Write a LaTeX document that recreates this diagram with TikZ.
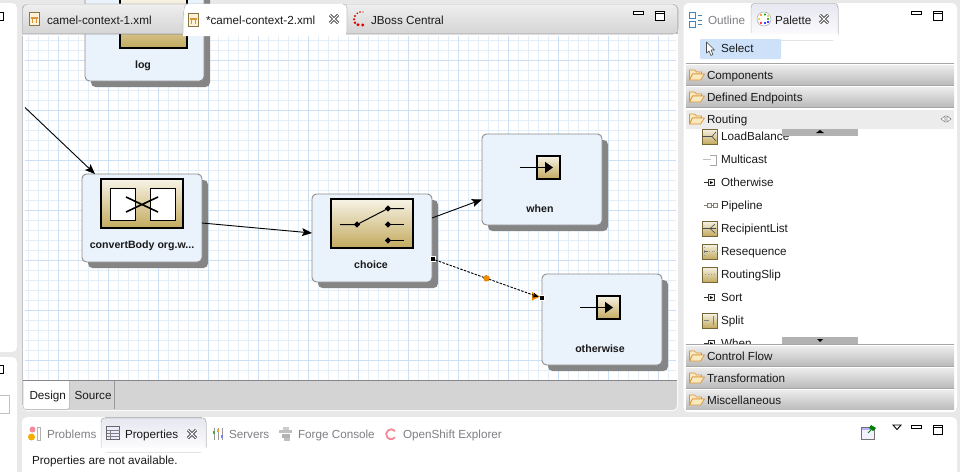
\documentclass[tikz,border=0pt]{standalone}
\usepackage{fontspec}
\setmainfont{Liberation Sans}
\usetikzlibrary{arrows.meta,shapes.geometric}
\definecolor{bgc}{HTML}{E8E8E8}
\definecolor{minorc}{HTML}{E3EEF9}
\definecolor{majorc}{HTML}{CBE0F4}
\definecolor{boxc}{HTML}{EAF2FC}
\definecolor{boxl}{HTML}{8C8C8C}
\definecolor{shadc}{HTML}{858585}
\definecolor{goldt}{HTML}{F7F3E6}
\definecolor{goldb}{HTML}{C3AA5E}
\definecolor{txt}{HTML}{1A1A1A}
\definecolor{dim}{HTML}{7F7F85}
\definecolor{hdt}{HTML}{ECECEC}
\definecolor{hdb}{HTML}{BDBDBD}
\definecolor{tabt}{HTML}{EFEFEF}
\definecolor{tabb}{HTML}{D4D4D4}
\definecolor{edge}{HTML}{C2C2C6}
\definecolor{lav}{HTML}{E6E7F0}
\definecolor{sel}{HTML}{CDE2F9}
\definecolor{fold}{HTML}{D9953A}
\definecolor{foldf}{HTML}{FBE9BE}
\definecolor{orng}{HTML}{F08C00}
\definecolor{pk}{HTML}{F58A96}
\tikzset{
  lbl/.style={inner sep=0pt,outer sep=0pt,anchor=base west,font=\fontsize{11.7}{13}\selectfont,text=txt},
  dimlbl/.style={lbl,text=dim},
  blocklbl/.style={inner sep=0pt,font=\fontsize{10.6}{12}\selectfont\bfseries,text=txt},
  blockbody/.style={draw=boxl,fill=boxc,line width=.9pt,rounded corners=4.5pt,inner sep=0pt,outer sep=0pt},
  blockshadow/.style={fill=shadc,rounded corners=4.5pt,inner sep=0pt,outer sep=0pt},
  goldicon/.style={draw=black,line width=2pt,top color=goldt,bottom color=goldb,inner sep=0pt,outer sep=0pt},
  minigold/.style={draw=goldb!60!black,line width=.6pt,top color=goldt,bottom color=goldb,inner sep=0pt,minimum width=15pt,minimum height=15pt},
  flow/.style={black,line width=.9pt,-{Stealth[length=10pt,width=8pt,inset=2pt]}},
  handle/.style={draw=white,fill=black,line width=.5pt,inner sep=0pt,minimum size=5pt},
  winbtn/.style={draw=black,line width=1pt,fill=white},
  hdr/.style={top color=hdt,bottom color=hdb,draw=none},
  sw/.style={black,line width=1pt},
  swdot/.style={diamond,fill=black,inner sep=0pt,minimum size=6.5pt}
}
\newcommand{\blocktext}{}
\newcommand{\blockbox}[7]{%
  \node[blockshadow,minimum width=#4,minimum height=#5] (#1s) at (#2+6,#3+6) {};
  \node[blockbody,minimum width=#4,minimum height=#5] (#1) at (#2,#3) {};
  \node[blocklbl] (#1l) at (#6,#7) {\vphantom{g}\blocktext};}
\newcommand{\foldr}[2]{%
  \draw[fold,fill=foldf,line width=.7pt,line join=round] (#1,#2+5) -- (#1,#2-5) -- (#1+5,#2-5) -- (#1+7,#2-3) -- (#1+12,#2-3) -- (#1+12,#2-1) -- (#1+3,#2-1) -- cycle;
  \draw[fold,fill=foldf,line width=.7pt,line join=round] (#1,#2+5) -- (#1+3,#2-1) -- (#1+15,#2-1) -- (#1+11,#2+5) -- cycle;}
\newcommand{\closex}[2]{%
  \draw[black,line width=2.6pt] (#1-4,#2-4) -- (#1+4,#2+4) (#1-4,#2+4) -- (#1+4,#2-4);
  \draw[white,line width=1.3pt] (#1-4,#2-4) -- (#1+4,#2+4) (#1-4,#2+4) -- (#1+4,#2-4);}
\newcommand{\minbtn}[2]{\draw[winbtn] (#1,#2) rectangle (#1+9.5,#2+3.5);}
\newcommand{\maxbtn}[2]{\draw[winbtn] (#1,#2) rectangle (#1+9,#2+9); \draw[black,line width=1pt] (#1,#2+2) -- (#1+9,#2+2);}
\newcommand{\camel}[2]{%
  \draw[fill=foldf!60,draw=goldb!70!black,line width=.7pt] (#1,#2-6.5) rectangle (#1+10,#2+6.5);
  \fill[fold] (#1+1.5,#2-2.5) rectangle (#1+8.5,#2-.5);
  \fill[fold] (#1+2,#2-.5) rectangle (#1+3.5,#2+4);
  \fill[fold] (#1+6,#2-.5) rectangle (#1+7.5,#2+4);}
\newcommand{\smallarrow}[1]{%
  \draw[black!80,line width=.6pt] (704,#1) -- (714,#1);
  \draw[black!80,line width=.6pt,fill=goldt] (708.5,#1-3) rectangle (714.5,#1+3);
  \fill[black] (710,#1-1.5) -- (713,#1) -- (710,#1+1.5) -- cycle;}
\begin{document}
\begin{tikzpicture}[x=1pt,y=-1pt]
\useasboundingbox (0,0) rectangle (960,472);
\fill[bgc] (0,0) rectangle (960,472);
% left panels
\fill[white,rounded corners=5pt] (-10,3) rectangle (17,352);
\fill[white,rounded corners=5pt] (-10,357) rectangle (17,482);
\draw[black,line width=1pt] (-6,12) rectangle (3,20);
\draw[black,line width=1pt] (-6,365) rectangle (3,373);
\draw[edge,line width=.8pt] (-5,395) rectangle (9.5,413);
% editor
\fill[white,rounded corners=5pt] (22,3) rectangle (678,411);
\fill[tabb,rounded corners=4pt] (23,378) rectangle (677,410);
\fill[white] (23.5,34) rectangle (677,380);
\foreach \gx in {28,38,...,668} \draw[minorc,line width=.9pt] (\gx+.5,36) -- (\gx+.5,380);
\foreach \gy in {40,50,...,370} \draw[minorc,line width=.9pt] (25,\gy+.5) -- (676,\gy+.5);
\foreach \gx in {58,108,...,658} \draw[majorc,line width=1pt] (\gx+.5,36) -- (\gx+.5,380);
\foreach \gy in {60,110,...,360} \draw[majorc,line width=1pt] (25,\gy+.5) -- (676,\gy+.5);
\draw[edge,line width=.8pt] (22.5,36) -- (22.5,405);
% blocks
\renewcommand{\blocktext}{log}
\blockbox{logb}{144.5}{35}{119}{92}{143}{65.5}
\renewcommand{\blocktext}{convertBody org.w...}
\blockbox{conv}{142}{218}{120}{88}{142}{245.5}
\renewcommand{\blocktext}{choice}
\blockbox{choice}{372}{238}{120}{88}{371}{265.5}
\renewcommand{\blocktext}{when}
\blockbox{when}{542}{179.5}{120}{91}{540}{209.5}
\renewcommand{\blocktext}{otherwise}
\blockbox{other}{602}{319.5}{120}{91}{600}{349.5}
% log icon
\node[goldicon,minimum width=67pt,minimum height=49pt] (logi) at (153.5,23.5) {};
% convert icon
\node[goldicon,minimum width=82pt,minimum height=49pt] (convi) at (142,203.5) {};
\node[draw=black,fill=white,line width=.7pt,inner sep=0pt,minimum width=25pt,minimum height=32pt] (convl) at (122.5,204) {};
\node[draw=black,fill=white,line width=.7pt,inner sep=0pt,minimum width=25pt,minimum height=32pt] (convr) at (162.5,204) {};
\draw[black,line width=1.6pt] (126,197) -- (158,212) (126,212) -- (158,197);
% choice icon
\node[goldicon,minimum width=82pt,minimum height=49pt] (choicei) at (372,223.5) {};
\node[swdot] (d0) at (357,224.5) {};
\node[swdot] (d1) at (388,208.5) {};
\node[swdot] (d2) at (388,224.5) {};
\node[swdot] (d3) at (388,240.5) {};
\coordinate (s0) at (340,224.5);
\coordinate (e1) at (404,208.5);
\coordinate (e2) at (404,224.5);
\coordinate (e3) at (404,240.5);
\draw[sw] (s0) -- (d0.center) -- (d1.center) -- (e1);
\draw[sw] (d2.center) -- (e2);
\draw[sw] (d3.center) -- (e3);
% when / otherwise icons
\node[goldicon,minimum size=23pt] (wheni) at (548,167.5) {};
\coordinate (wa) at (520,167.5);
\draw[black,line width=1.5pt,-{Triangle[length=8pt,width=11pt]}] (wa) -- (553,167.5);
\node[goldicon,minimum size=23pt] (otheri) at (608,307.5) {};
\coordinate (oa) at (580,307.5);
\draw[black,line width=1.5pt,-{Triangle[length=8pt,width=11pt]}] (oa) -- (613,307.5);
% connectors
\coordinate (offl) at (25,107.5);
\draw[flow] (offl) -- ([xshift=13pt]conv.north west);
\draw[flow] ([yshift=-5pt]conv.east) -- ([yshift=5pt]choice.west);
\draw[flow] ([yshift=20pt]choice.east) -- ([yshift=-20pt]when.west);
\node[handle] (h1) at (432.5,259) {};
\node[handle] (h2) at (541.5,298) {};
\fill[orng] (532,292) -- (540,296.5) -- (532,300.5) -- cycle;
\draw[black,line width=.9pt,dash pattern=on 2.5pt off 1.3pt,-{Stealth[length=6pt,width=5pt,inset=1.5pt]}] (h1) -- (h2) node[pos=.495,circle,fill=orng,draw=orng!80!black,line width=.4pt,inner sep=0pt,minimum size=6pt] (mid) {};
% design tabs
\draw[edge!70!black,line width=.9pt] (23,380.5) -- (677,380.5);
\filldraw[fill=white,draw=edge,line width=.7pt,rounded corners=3pt] (23,381) -- (23,409.5) -- (69.5,409.5) -- (69.5,381);
\draw[black!40,line width=.8pt] (114.5,381) -- (114.5,409);
\node[lbl] (tdesign) at (29.5,399) {Design};
\node[lbl] (tsource) at (74.5,399) {Source};
% editor tab strip
\fill[top color=tabt,bottom color=tabb,rounded corners=5pt] (22,34) -- (22,4) -- (678,4) -- (678,34) [sharp corners] -- cycle;
\draw[edge,line width=.9pt,rounded corners=5pt] (22.5,34) -- (22.5,4) -- (677.5,4) -- (677.5,34);
\draw[edge,line width=.9pt] (23,33.8) -- (183,33.8) (347,33.8) -- (677,33.8);
\fill[white,rounded corners=5pt] (183,36) -- (183,4) -- (347,4) -- (347,36) [sharp corners] -- cycle;
\draw[edge,line width=.7pt] (183,33.5) .. controls (183,8) and (184,4) .. (188,4);
\draw[edge,line width=.7pt] (347,33.5) -- (347,8) .. controls (347,5) and (345,4) .. (343,4);
\camel{29.5}{19}
\camel{188.5}{20}
\node[lbl] (t1) at (47,24) {camel-context-1.xml};
\node[lbl] (t2) at (206,24) {*camel-context-2.xml};
\closex{334}{19}
\foreach \dx/\dy/\dr in {362.7/25/1.7,358/24.7/1.6,355/22.7/1.4,354/19.3/1.2,355/16/1.1,357.3/13.3/.9,360/12/.8,363/12/.6} \fill[red!85!black] (\dx,\dy) circle (\dr);
\node[lbl] (t3) at (371,24) {JBoss Central};
\minbtn{633.5}{11}
\maxbtn{655}{11}
% palette panel
\fill[white,rounded corners=5pt] (683.5,3) rectangle (957,412);
\fill[top color=lav,bottom color=white,rounded corners=5pt] (751,3) rectangle (838,40);
\fill[white] (751,34) rectangle (838,40);
\draw[edge,line width=.5pt,rounded corners=3pt] (751,33) -- (751,3.5) -- (838,3.5) -- (838,33);
\draw[blue!45!cyan!50!gray,line width=.8pt] (689.5,12.5) rectangle (695,18) (689.5,21.5) rectangle (695,27);
\draw[blue!45!cyan!50!gray,line width=.7pt] (698,15) -- (702,15) (698,20) -- (702,20) (698,24) -- (702,24);
\node[dimlbl] (toutline) at (708,24) {Outline};
\fill[white] (764,19) circle (7);
\draw[gray!60,line width=.6pt] (764,19) circle (7);
\foreach \px/\py/\pc in {761/15/orange,765/14.5/green!60!black,768/16/yellow!80!black,759/19/yellow!80!black,768/19/green!60!black,761/23/red,765/23/blue,768/22/blue} \fill[\pc] (\px,\py) circle (1.2);
\node[lbl] (tpal) at (775,24) {Palette};
\closex{824}{19}
\minbtn{911.5}{11}
\maxbtn{933.5}{11}
% palette items
\fill[sel,rounded corners=1pt] (700,39) rectangle (781,59);
\draw[black!70,fill=white,line width=.6pt,line join=round] (706.5,42) -- (706.5,53) -- (709,51) -- (711,55.5) -- (713,54.5) -- (711,50) -- (714.5,50) -- cycle;
\node[lbl] (tsel) at (721,52) {Select};
\node[minigold] (iload) at (710,136.5) {};
\draw[black!70,line width=.6pt] (702,136.5) -- (712,136.5) -- (716,132) (712,136.5) -- (716,141);
\node[lbl] (il1) at (721,140) {LoadBalance};
\draw[black!25,line width=.8pt] (703,159.5) -- (711,159.5);
\draw[black!35,line width=.5pt] (710,155) -- (716,155) -- (716,165) -- (710,165);
\node[lbl] (il2) at (721,163) {Multicast};
\smallarrow{182.5}
\node[lbl] (il3) at (721,186) {Otherwise};
\draw[black!50,fill=goldt,line width=.6pt] (704,205) -- (707,205) (707,203) rectangle (711,207) (711,205) -- (713,205) (713,203) rectangle (717,207);
\node[lbl] (il4) at (721,209) {Pipeline};
\node[minigold] (irec) at (710,228.5) {};
\draw[black!70,line width=.6pt] (703,228.5) -- (710,228.5) -- (715,224) (710,228.5) -- (715,233) (710,228.5) -- (716,228.5);
\node[lbl] (il5) at (721,232) {RecipientList};
\node[minigold] (ires) at (710,251.5) {};
\draw[black!60,line width=.6pt] (704,251.5) -- (708,251.5);
\draw[black!40,line width=.6pt,dotted] (709,251.5) -- (717,251.5) (704,247) -- (704,256);
\node[lbl] (il6) at (721,255) {Resequence};
\node[minigold] (irou) at (710,274.5) {};
\draw[black!40,line width=1pt,dotted] (705,274.5) -- (716,274.5);
\node[lbl] (il7) at (721,278) {RoutingSlip};
\smallarrow{297.5}
\node[lbl] (il8) at (721,301) {Sort};
\node[minigold] (ispl) at (710,320.5) {};
\draw[black!50,line width=.6pt] (704,320.5) -- (709,320.5) (713,316) -- (713,325);
\node[lbl] (il9) at (721,324) {Split};
\smallarrow{343.5}
\node[lbl] (il10) at (721,347) {When};
% scroll bars
\fill[black!30] (782,129) rectangle (858,136);
\fill[black] (816,133) -- (824,133) -- (820,130) -- cycle;
\fill[black!30] (782,337) rectangle (858,344);
\fill[black] (817,339) -- (823,339) -- (820,342) -- cycle;
% palette headers
\foreach \hy in {63,85,107} \draw[black!35,line width=.8pt] (686,\hy) -- (954,\hy);
\fill[hdr] (686,65) rectangle (954,84);
\fill[hdr] (686,87) rectangle (954,106);
\fill[hdt] (686,110) rectangle (954,129);
\fill[white] (686,344) rectangle (954,412);
\foreach \hy in {344.3,366.3,388.3} \draw[black!35,line width=.8pt] (686,\hy) -- (954,\hy);
\fill[hdr] (686,346) rectangle (954,365);
\fill[hdr] (686,368) rectangle (954,387);
\fill[hdr] (686,390) rectangle (954,409);
\foldr{689.5}{75}
\foldr{689.5}{97}
\foldr{689.5}{119}
\foldr{689.5}{356}
\foldr{689.5}{378}
\foldr{689.5}{400}
\node[lbl] (h11) at (707,79) {Components};
\node[lbl] (h12) at (707,101) {Defined Endpoints};
\node[lbl] (h13) at (707,123) {Routing};
\node[lbl] (h14) at (707,360) {Control Flow};
\node[lbl] (h15) at (707,382) {Transformation};
\node[lbl] (h16) at (707,404) {Miscellaneous};
\draw[black!45,fill=white,line width=.6pt] (941,119) -- (945,116) -- (945,122) -- cycle (951,119) -- (947,116) -- (947,122) -- cycle;
% bottom panel
\fill[white,rounded corners=5pt] (22,417) rectangle (957,482);
\fill[top color=lav,bottom color=white,rounded corners=5pt] (101,417.5) rectangle (206,452);
\fill[white] (101,448) rectangle (206,452);
\draw[edge,line width=.5pt,rounded corners=3pt] (101,447) -- (101,418) -- (206,418) -- (206,447);
\fill[pk] (32.5,429.5) circle (3);
\fill[orng!70!yellow] (31.5,437) circle (3.5);
\draw[black!30,line width=.8pt] (37,427) -- (40,427) -- (40,440) -- (37,440) -- cycle;
\node[dimlbl] (tprob) at (47,438) {Problems};
\draw[black!60,fill=blue!8,line width=.7pt] (106.5,426.5) rectangle (119.5,439);
\draw[black!50,line width=.5pt] (106.5,430) -- (119.5,430) (106.5,433) -- (119.5,433) (106.5,436) -- (119.5,436) (110.5,430) -- (110.5,439);
\node[lbl] (tprop) at (125,438) {Properties};
\closex{192}{434}
\draw[black!40,line width=.7pt] (214,428) -- (214,440) (218,428) -- (218,440) (222,428) -- (222,440);
\fill[green!50!black!70] (213,431) rectangle (215,434);
\fill[orng!80] (217,429) rectangle (219,432);
\fill[blue!50] (221,435) rectangle (223,438);
\node[dimlbl] (tserv) at (229,438) {Servers};
\fill[black!25] (279,430) rectangle (292,433);
\fill[black!30] (282,434) rectangle (290,438);
\fill[black!20] (283,427) rectangle (289,430);
\fill[black!25] (284,438) rectangle (290,441);
\node[dimlbl] (tforge) at (298,438) {Forge Console};
\draw[pk,line width=1.8pt] (395,431) arc[start angle=-40,end angle=-320,radius=5];
\node[dimlbl] (topen) at (403,438) {OpenShift Explorer};
\draw[black!55,fill=blue!5,line width=.7pt] (861.5,427) rectangle (874,439);
\fill[blue!30] (862,427.5) rectangle (873.5,430);
\fill[green!50!black] (871,425) -- (876,428) -- (873,431) -- (869,428) -- cycle;
\draw[green!50!black,line width=.8pt] (871,430) -- (868,433);
\draw[black,line width=.9pt,fill=white] (893,425) -- (901,425) -- (897,429.5) -- cycle;
\minbtn{911.5}{425}
\maxbtn{933.5}{425}
\node[lbl] (tna) at (32,464) {Properties are not available.};
\end{tikzpicture}
\end{document}
